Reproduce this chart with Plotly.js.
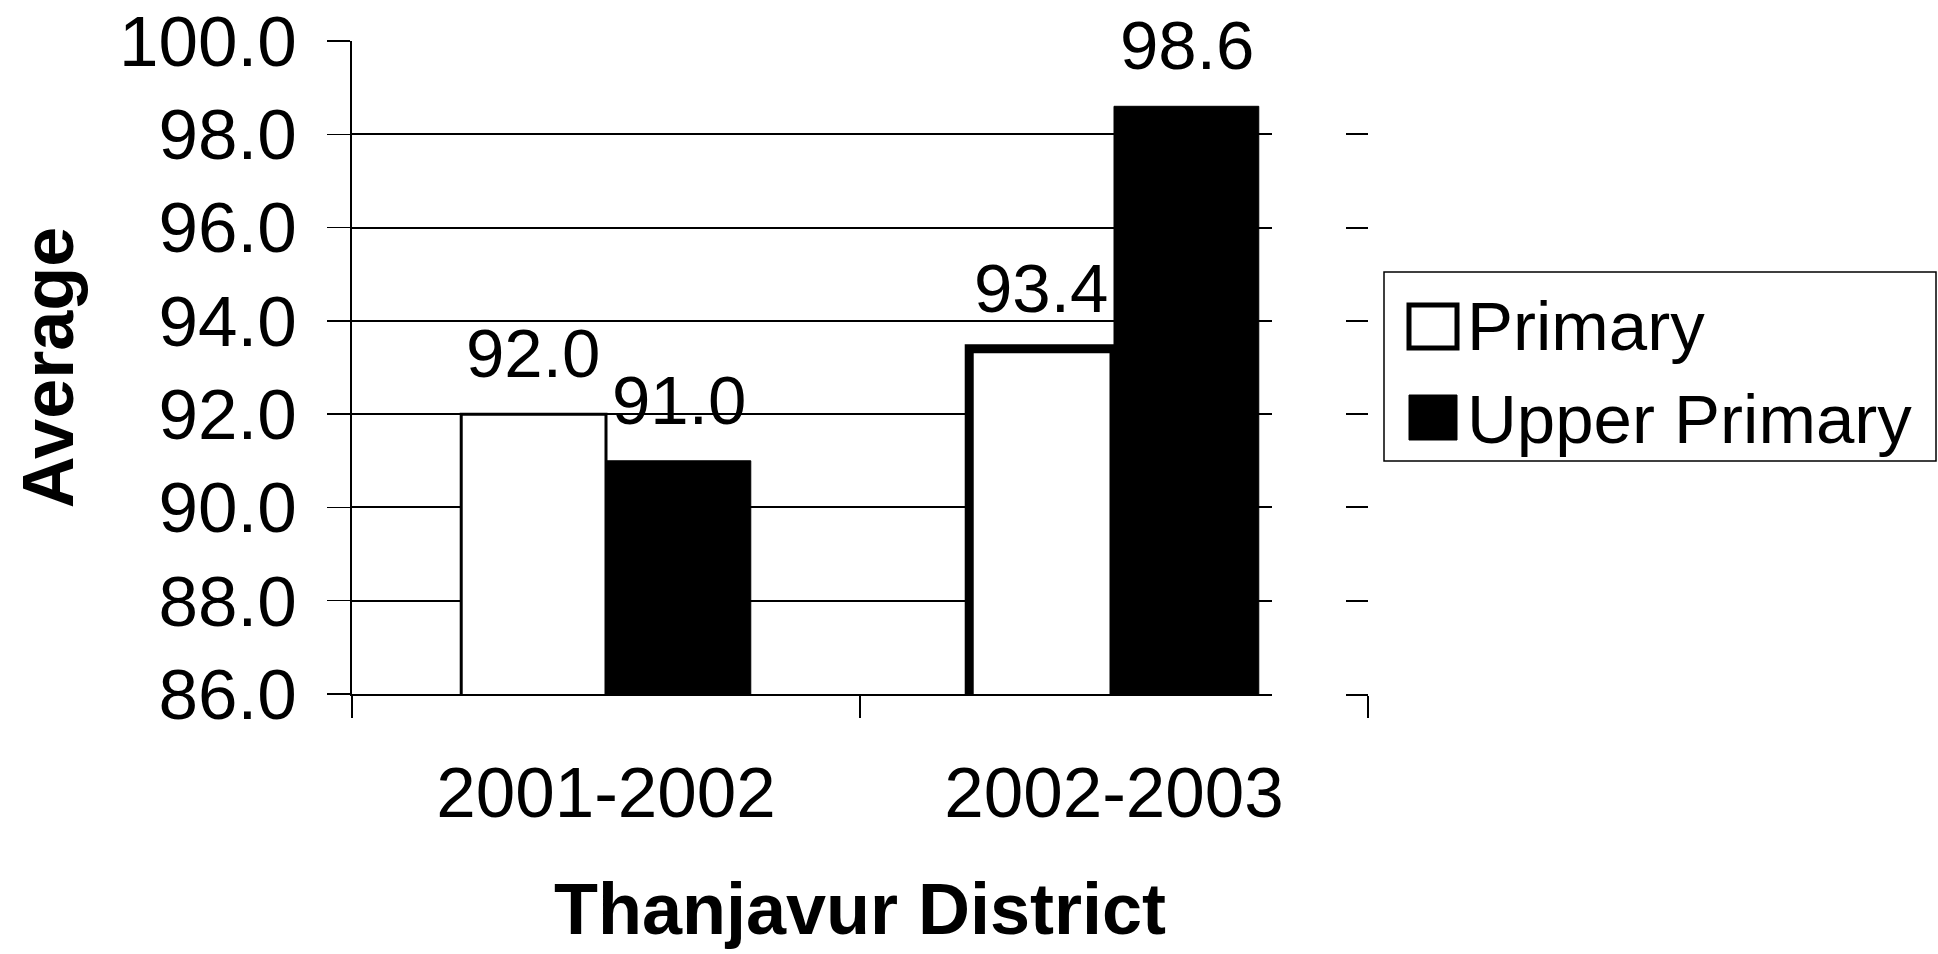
<!DOCTYPE html>
<html>
<head>
<meta charset="utf-8">
<script src="https://cdn.plot.ly/plotly-3.0.1.min.js"></script>
<style>
  html, body { margin: 0; padding: 0; background: #ffffff; }
  #chart { width: 1938px; height: 954px; }
</style>
</head>
<body>
<div id="chart"></div>
<script>
// ---- data ----
const categories = ['2001-2002', '2002-2003'];
const seriesNames = ['Primary', 'Upper Primary'];
const primaryValues = [92.0, 93.4];
const upperPrimaryValues = [91.0, 98.6];
const yTickValues = [86, 88, 90, 92, 94, 96, 98, 100];
const yTickLabels = ['86.0', '88.0', '90.0', '92.0', '94.0', '96.0', '98.0', '100.0'];
const xAxisTitle = 'Thanjavur District';
const yAxisTitle = 'Average';

// ---- geometry helpers (plot area in pixels) ----
const W = 1938, H = 954;
const L = 352, R = 1368, T = 41, B = 694;
const px = x => (x - L) / (R - L);
const py = y => (B - y) / (B - T);

const FONT = '"Liberation Sans", Arial, sans-serif';

const traces = [
  {
    type: 'bar',
    name: seriesNames[0],
    x: categories,
    y: primaryValues,
    marker: { color: '#ffffff', line: { color: '#000000', width: [3, 9] } },
    showlegend: false,
    hoverinfo: 'none'
  },
  {
    type: 'bar',
    name: seriesNames[1],
    x: categories,
    y: upperPrimaryValues,
    marker: { color: '#000000', line: { color: '#000000', width: 1 } },
    showlegend: false,
    hoverinfo: 'none'
  }
];

// value labels above bars
const annotations = [];
const seriesValues = [primaryValues, upperPrimaryValues];
const offsets = [-73, 73];
seriesValues.forEach((vals, s) => {
  vals.forEach((v, i) => {
    annotations.push({
      x: categories[i], y: v, xref: 'x', yref: 'y',
      text: v.toFixed(1), showarrow: false,
      xanchor: 'center', yanchor: 'bottom',
      xshift: offsets[s], yshift: 20,
      font: { family: FONT, size: 69, color: '#000' }
    });
  });
});

// custom legend (large symbols like the original)
const legendRows = [
  { name: seriesNames[0], symTop: 303, symBot: 350, textY: 326, fill: '#ffffff', lw: 5 },
  { name: seriesNames[1], symTop: 393, symBot: 442, textY: 419, fill: '#000000', lw: 1 }
];
const shapes = [
  // scan gap in the gridlines on the right side
  { type: 'rect', xref: 'paper', yref: 'paper', layer: 'above',
    x0: px(1272), x1: px(1346), y0: py(700), y1: py(30),
    fillcolor: '#ffffff', line: { width: 0 } },
  // legend box
  { type: 'rect', xref: 'paper', yref: 'paper', layer: 'above',
    x0: px(1384), x1: px(1936), y0: py(461), y1: py(272),
    fillcolor: 'rgba(0,0,0,0)', line: { color: '#000', width: 1.5 } }
];
legendRows.forEach(r => {
  shapes.push({ type: 'rect', xref: 'paper', yref: 'paper', layer: 'above',
    x0: px(1409), x1: px(1457), y0: py(r.symBot - 2), y1: py(r.symTop + 2),
    fillcolor: r.fill, line: { color: '#000', width: r.lw } });
  annotations.push({ xref: 'paper', yref: 'paper', x: px(1465), y: py(r.textY),
    xanchor: 'left', yanchor: 'middle', showarrow: false, text: r.name,
    font: { family: FONT, size: 69, color: '#000' } });
});

const layout = {
  width: W, height: H,
  paper_bgcolor: '#ffffff', plot_bgcolor: '#ffffff',
  margin: { l: L, r: W - R, t: T, b: H - B, pad: 0 },
  barmode: 'group', bargap: 0.43, bargroupgap: 0,
  showlegend: false,
  font: { family: FONT, color: '#000' },
  xaxis: {
    type: 'category',
    showline: true, linecolor: '#000', linewidth: 2,
    ticks: 'outside', ticklen: 22, tickwidth: 1.5, tickcolor: '#000',
    tickson: 'boundaries',
    showgrid: false, zeroline: false,
    tickfont: { family: FONT, size: 71, color: '#000' },
    ticklabelstandoff: 36,
    title: { text: xAxisTitle, font: { family: FONT, size: 72, color: '#000', weight: 'bold' }, standoff: 52 },
    automargin: false
  },
  yaxis: {
    range: [86, 100],
    tickvals: yTickValues, ticktext: yTickLabels,
    showline: true, linecolor: '#000', linewidth: 2,
    ticks: 'outside', ticklen: 23, tickwidth: 1.5, tickcolor: '#000',
    showgrid: true, gridcolor: '#000', gridwidth: 2,
    zeroline: false,
    tickfont: { family: FONT, size: 71, color: '#000' },
    ticklabelstandoff: 16,
    title: { text: yAxisTitle, font: { family: FONT, size: 72, color: '#000', weight: 'bold' }, standoff: 22 },
    automargin: false
  },
  annotations: annotations,
  shapes: shapes
};

Plotly.newPlot('chart', traces, layout, { staticPlot: true, displayModeBar: false });
</script>
</body>
</html>
